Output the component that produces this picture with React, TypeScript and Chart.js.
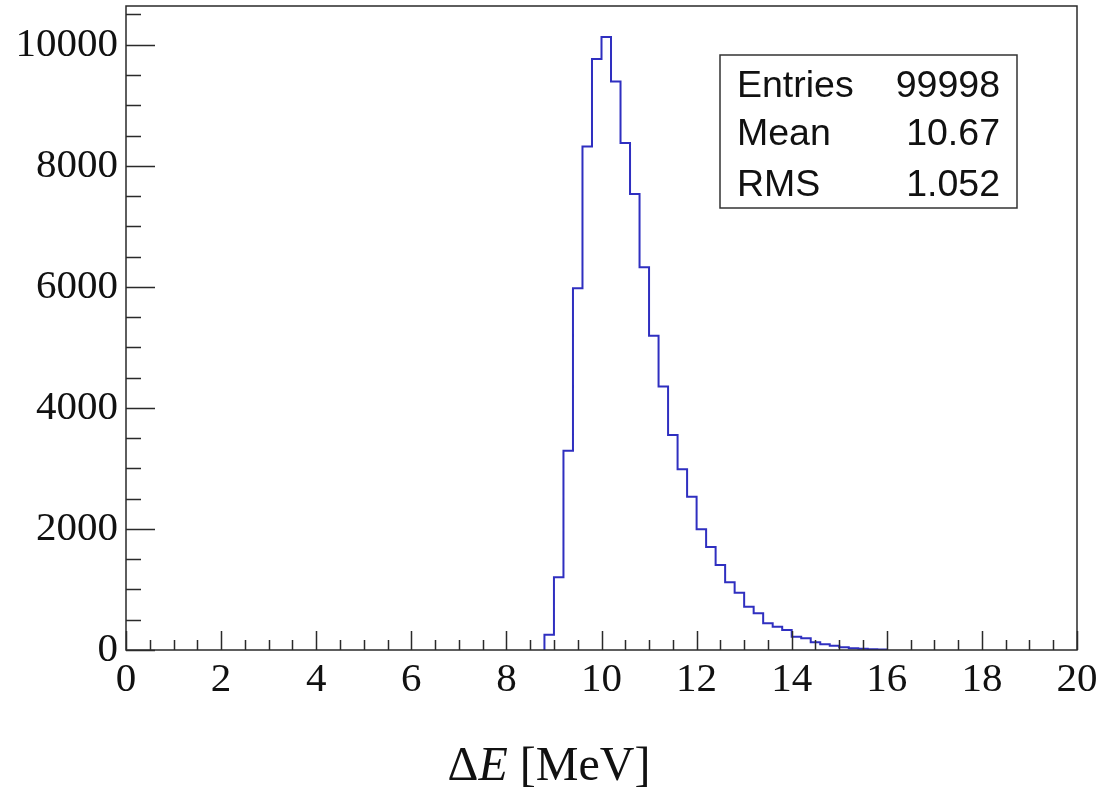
import React, { useEffect, useRef } from "react";
import { Chart, registerables } from "chart.js";

Chart.register(...registerables);

// Histogram bin edges (MeV) and counts
const binEdges = [
  8.8, 9.0, 9.2, 9.4, 9.6, 9.8, 10.0, 10.2, 10.4, 10.6, 10.8, 11.0, 11.2, 11.4,
  11.6, 11.8, 12.0, 12.2, 12.4, 12.6, 12.8, 13.0, 13.2, 13.4, 13.6, 13.8, 14.0,
  14.2, 14.4, 14.6, 14.8, 15.0, 15.2, 15.4, 15.6, 15.8, 16.0,
];
const binCounts = [
  253, 1202, 3294, 5978, 8319, 9763, 10127, 9393, 8375, 7532, 6325, 5190, 4353,
  3554, 2987, 2534, 1995, 1700, 1405, 1119, 947, 716, 607, 441, 386, 331, 220,
  193, 127, 94, 72, 44, 30, 20, 12, 8,
];

const xTicks = [0, 2, 4, 6, 8, 10, 12, 14, 16, 18, 20];
const yTicks = [0, 2000, 4000, 6000, 8000, 10000];
const xMinorStep = 0.5;
const yMinorStep = 500;
const xRange = [0, 20];
const yRange = [0, 10640];

const statLabels = ["Entries", "Mean", "RMS"];
const statValues = ["99998", "10.67", "1.052"];

const SERIF = '"Liberation Serif", "Times New Roman", serif';
const SANS = '"Liberation Sans", Arial, sans-serif';

export default function App() {
  const canvasRef = useRef<HTMLCanvasElement | null>(null);

  useEffect(() => {
    const canvas = canvasRef.current;
    if (!canvas) return;

    // step-histogram points: value of bin i drawn from edge i to edge i+1
    const points: { x: number; y: number }[] = [{ x: binEdges[0], y: 0 }];
    binCounts.forEach((c, i) => points.push({ x: binEdges[i + 1], y: c }));
    points.push({ x: binEdges[binEdges.length - 1], y: 0 });

    const framePlugin = {
      id: "rootFrame",
      afterDatasetsDraw(chart: any) {
        const { ctx, chartArea: a, scales } = chart;
        const xs = scales.x;
        const ys = scales.y;
        ctx.save();
        ctx.strokeStyle = "#2a2a2a";
        ctx.lineWidth = 1.5;
        ctx.strokeRect(a.left, a.top, a.right - a.left, a.bottom - a.top);
        ctx.beginPath();
        // x ticks
        for (let v = xRange[0]; v <= xRange[1] + 1e-9; v += xMinorStep) {
          const px = Math.round(xs.getPixelForValue(v)) + 0.5;
          const major = Math.abs(v / 2 - Math.round(v / 2)) < 1e-6;
          const len = major ? 19 : 10;
          ctx.moveTo(px, a.bottom);
          ctx.lineTo(px, a.bottom - len);
        }
        // y ticks
        for (let v = yRange[0]; v <= yRange[1] + 1e-9; v += yMinorStep) {
          const py = Math.round(ys.getPixelForValue(v)) + 0.5;
          const major = v % 2000 === 0;
          const len = major ? 29 : 15;
          ctx.moveTo(a.left, py);
          ctx.lineTo(a.left + len, py);
        }
        ctx.stroke();

        // stats box
        const bx = 720, by = 55, bw = 297, bh = 153;
        ctx.fillStyle = "#ffffff";
        ctx.fillRect(bx, by, bw, bh);
        ctx.strokeStyle = "#333";
        ctx.lineWidth = 1.5;
        ctx.strokeRect(bx, by, bw, bh);
        ctx.fillStyle = "#111";
        ctx.font = `37.5px ${SANS}`;
        ctx.textBaseline = "alphabetic";
        const rowY = [97, 145, 196];
        statLabels.forEach((l, i) => {
          ctx.textAlign = "left";
          ctx.fillText(l, 737, rowY[i]);
          ctx.textAlign = "right";
          ctx.fillText(statValues[i], 1000, rowY[i]);
        });

        // x axis title: ΔE [MeV]
        ctx.textBaseline = "alphabetic";
        ctx.textAlign = "left";
        const parts = [
          { t: "\u0394", f: `48px ${SERIF}` },
          { t: "E", f: `italic 48px ${SERIF}` },
          { t: " [MeV]", f: `48px ${SERIF}` },
        ];
        let total = 0;
        parts.forEach((p) => {
          ctx.font = p.f;
          total += ctx.measureText(p.t).width;
        });
        let cx = 549 - total / 2;
        parts.forEach((p) => {
          ctx.font = p.f;
          ctx.fillText(p.t, cx, 780);
          cx += ctx.measureText(p.t).width;
        });
        ctx.restore();
      },
    };

    const zeroPad = (s: any) => {
      s.paddingTop = 0;
      s.paddingBottom = 0;
      s.paddingLeft = 0;
      s.paddingRight = 0;
    };

    const chart = new Chart(canvas, {
      type: "line",
      data: {
        datasets: [
          {
            data: points,
            borderColor: "#2f2fc0",
            borderWidth: 2,
            stepped: "after",
            pointRadius: 0,
            fill: false,
          },
        ],
      },
      options: {
        animation: false,
        responsive: false,
        maintainAspectRatio: false,
        devicePixelRatio: 1,
        layout: { padding: { top: 6, right: 22, left: 0, bottom: 0 } },
        plugins: {
          legend: { display: false },
          tooltip: { enabled: false },
        },
        scales: {
          x: {
            type: "linear",
            min: xRange[0],
            max: xRange[1],
            grid: { display: false, drawTicks: false },
            border: { display: false },
            afterFit: (s: any) => {
              s.height = 141;
              zeroPad(s);
            },
            afterBuildTicks: (s: any) => {
              s.ticks = xTicks.map((v) => ({ value: v }));
            },
            ticks: {
              autoSkip: false,
              maxRotation: 0,
              padding: 6,
              color: "#111",
              font: { family: SERIF, size: 41 },
              callback: (v: any) => String(v),
            },
          },
          y: {
            type: "linear",
            min: yRange[0],
            max: yRange[1],
            grid: { display: false, drawTicks: false },
            border: { display: false },
            afterFit: (s: any) => {
              s.width = 126;
              zeroPad(s);
            },
            afterBuildTicks: (s: any) => {
              s.ticks = yTicks.map((v) => ({ value: v }));
            },
            ticks: {
              autoSkip: false,
              padding: 8,
              color: "#111",
              font: { family: SERIF, size: 41 },
              callback: (v: any) => String(v),
            },
          },
        },
      },
      plugins: [framePlugin],
    });

    return () => chart.destroy();
  }, []);

  return (
    <div style={{ position: "fixed", left: 0, top: 0, width: 1099, height: 791, background: "#fff" }}>
      <canvas ref={canvasRef} width={1099} height={791} style={{ display: "block" }} />
    </div>
  );
}
